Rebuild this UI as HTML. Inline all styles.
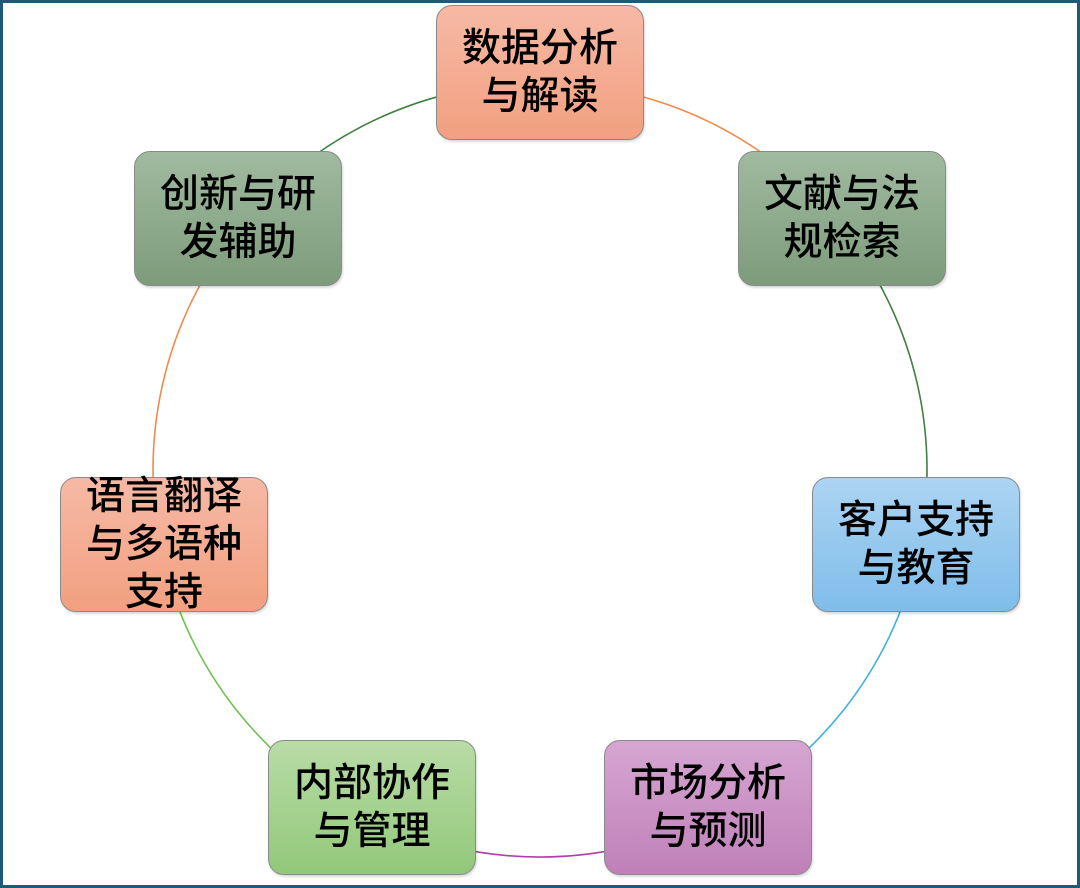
<!DOCTYPE html>
<html><head><meta charset="utf-8"><style>
html,body{margin:0;padding:0;}
body{width:1080px;height:888px;position:relative;overflow:hidden;background:#fff;font-family:"Liberation Sans","Noto Sans CJK SC",sans-serif;}
.frame{position:absolute;left:0;top:0;width:1074px;height:882px;border:3px solid #1f5a78;}
svg{position:absolute;left:0;top:0;}
.b{position:absolute;width:208px;height:135px;border:1px solid #8a8a8a;border-radius:16px;box-sizing:border-box;display:flex;align-items:center;justify-content:center;text-align:center;font-size:39px;line-height:48px;color:#000;font-weight:500;box-shadow:1px 2px 2px rgba(0,0,0,0.15);white-space:nowrap;}
.o{background:linear-gradient(#f6b9a5,#f2a080);}
.g{background:linear-gradient(#a0baa0,#7d9c7b);}
.bl{background:linear-gradient(#acd4f2,#7fbdea);}
.p{background:linear-gradient(#d6a6d2,#bf80b8);}
.lg{background:linear-gradient(#b8dca6,#92c87a);}
</style></head><body>
<div class="frame"></div>
<svg width="1080" height="888" fill="none" stroke-width="1.6">
<path d="M540 83 A387 387 0 0 1 842.6 228.7" stroke="#f08a4b"/>
<path d="M842.6 228.7 A387 387 0 0 1 917.3 556.1" stroke="#3f7f3f"/>
<path d="M917.3 556.1 A387 387 0 0 1 707.9 818.7" stroke="#3fb0e0"/>
<path d="M707.9 818.7 A387 387 0 0 1 372.1 818.7" stroke="#b040a8"/>
<path d="M372.1 818.7 A387 387 0 0 1 162.7 556.1" stroke="#70c050"/>
<path d="M162.7 556.1 A387 387 0 0 1 237.4 228.7" stroke="#f08a4b"/>
<path d="M237.4 228.7 A387 387 0 0 1 540 83" stroke="#3f7f3f"/>
</svg>
<div class="b o" style="left:436px;top:5px">数据分析<br>与解读</div>
<div class="b g" style="left:738px;top:151px">文献与法<br>规检索</div>
<div class="b bl" style="left:812px;top:477px">客户支持<br>与教育</div>
<div class="b p" style="left:604px;top:740px">市场分析<br>与预测</div>
<div class="b lg" style="left:268px;top:740px">内部协作<br>与管理</div>
<div class="b o" style="left:60px;top:477px">语言翻译<br>与多语种<br>支持</div>
<div class="b g" style="left:134px;top:151px">创新与研<br>发辅助</div>
</body></html>
